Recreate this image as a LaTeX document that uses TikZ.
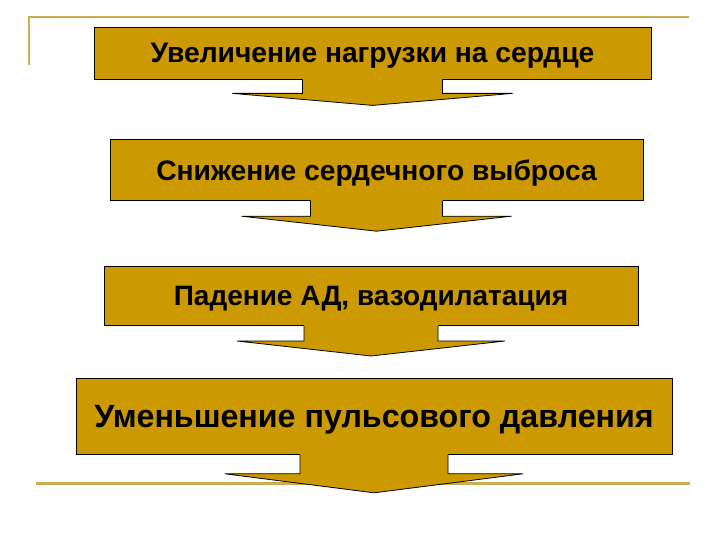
\documentclass[tikz,border=0pt]{standalone}
\usepackage{fontspec}
\setmainfont{Liberation Sans}
\usetikzlibrary{positioning, calc}

\definecolor{stagegold}{RGB}{204,153,0}
\definecolor{decoline}{RGB}{204,172,84}

\begin{document}
\begin{tikzpicture}[
    x=1bp, y=-1bp,
    every node/.style={font=\bfseries},
    stage/.style={rectangle, draw=black, line width=0.8bp, fill=stagegold, inner sep=0pt, text depth=0pt, align=center},
    outline/.style={draw=black, line width=0.8bp, line join=miter},
    deco/.style={draw=decoline, line width=2.2bp}
]
\useasboundingbox (0,0) rectangle (720,540);

% Frame lines
\draw[deco] (29,65) -- (29,17) -- (689,17);
\draw[deco, line width=3bp] (36,483) -- (690,483);

% Nodes
\node[stage, minimum width=557bp, minimum height=52bp, font=\bfseries\fontsize{28.2bp}{32bp}\selectfont] (load) at (372.5,53) {Увеличение нагрузки на сердце};
\node[stage, below=60bp of load, xshift=4bp, minimum width=533bp, minimum height=61bp, font=\bfseries\fontsize{28.2bp}{32bp}\selectfont] (output) {Снижение сердечного выброса};
\node[stage, below=65bp of output, xshift=-5.5bp, minimum width=534bp, minimum height=59bp, font=\bfseries\fontsize{28bp}{32bp}\selectfont] (pressure) {Падение АД, вазодилатация};
\node[stage, below=52bp of pressure, xshift=3bp, minimum width=596bp, minimum height=76bp, font=\bfseries\fontsize{32.2bp}{36bp}\selectfont] (pulse) {Уменьшение пульсового давления};

% Arrows
\foreach \b/\sh/\sl/\wh/\tl in {load/70/14/140/12, output/66/15/135/15, pressure/67/15/134/15, pulse/74/19/149/19}{
  \fill[stagegold] ($(\b.south)+(-\sh,-1)$) -- ($(\b.south)+(-\sh,\sl)$) -- ($(\b.south)+(-\wh,\sl)$) -- ($(\b.south)+(0,\sl+\tl)$) -- ($(\b.south)+(\wh,\sl)$) -- ($(\b.south)+(\sh,\sl)$) -- ($(\b.south)+(\sh,-1)$) -- cycle;
  \draw[outline] ($(\b.south)+(-\sh,0)$) -- ($(\b.south)+(-\sh,\sl)$) -- ($(\b.south)+(-\wh,\sl)$) -- ($(\b.south)+(0,\sl+\tl)$) -- ($(\b.south)+(\wh,\sl)$) -- ($(\b.south)+(\sh,\sl)$) -- ($(\b.south)+(\sh,0)$);
}

\end{tikzpicture}
\end{document}
